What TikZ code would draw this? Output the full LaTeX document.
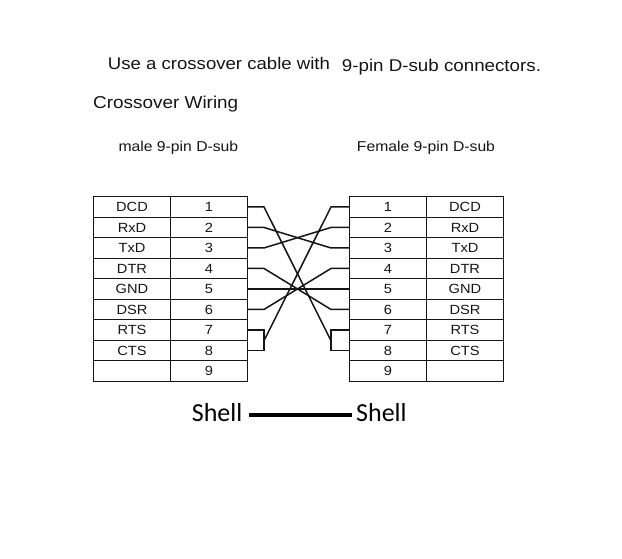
\documentclass[tikz,border=0pt]{standalone}
\usepackage{graphicx}
\usepackage{fontspec}
\setmainfont{Liberation Sans}
\newfontfamily\shellfont{Carlito}
\usepackage{tikz}
\usetikzlibrary{positioning}

\definecolor{ink}{HTML}{151515}
\newcommand{\stretched}[1]{\scalebox{1.1}[1]{#1}}

\tikzset{
  caption/.style={anchor=base west, inner sep=0pt, text=ink},
  cell/.style={draw=ink, line width=1pt, minimum width=77pt, minimum height=20.5pt,
    inner sep=0pt, text height=9.5pt, text depth=0pt, text=ink,
    font=\fontsize{13.3}{15}\selectfont},
  wire/.style={draw=ink, line width=1.5pt},
  shelltext/.style={anchor=base west, inner sep=0pt, text height=13.4pt, text depth=0pt,
    font=\shellfont\fontsize{26}{30}\selectfont},
}

\begin{document}
\begin{tikzpicture}[x=1pt, y=-1pt]
    \useasboundingbox (0,0) rectangle (622,558);

    % headings
    \node [caption, font=\fontsize{16.9}{20}\selectfont] (title) at (107.7,69) {\stretched{Use a crossover cable with}};
    \node [caption, font=\fontsize{17.05}{20}\selectfont] (titleend) at (341.7,71) {\stretched{9-pin D-sub connectors.}};
    \node [caption, font=\fontsize{17.2}{20}\selectfont] (wiring) at (93,108) {\stretched{Crossover Wiring}};
    \node [caption, font=\fontsize{14.3}{17}\selectfont] (male) at (118.3,151.7) {\stretched{male 9-pin D-sub}};
    \node [caption, font=\fontsize{14.3}{17}\selectfont] (female) at (356.7,151.7) {\stretched{Female 9-pin D-sub}};

    % the two pin tables
    \foreach \pin/\sig in {1/DCD,2/RxD,3/TxD,4/DTR,5/GND,6/DSR,7/RTS,8/CTS,9/{}} {
      \node [cell] (Ls\pin) at (132,186.45+20.5*\pin) {\stretched{\sig}};
      \node [cell] (Lp\pin) at (209,186.45+20.5*\pin) {\stretched{\pin}};
      \node [cell] (Rp\pin) at (388,186.45+20.5*\pin) {\stretched{\pin}};
      \node [cell] (Rs\pin) at (465,186.45+20.5*\pin) {\stretched{\sig}};
    }

    % loop points between pins 7 and 8
    \coordinate [right=16pt of Lp7.south east] (Lloop);
    \coordinate [left=18pt of Rp7.south west] (Rloop);

    \draw [wire] (Lp7.east) -| (Lloop) |- (Lp8.east);
    \draw [wire] (Rp7.west) -| (Rloop) |- (Rp8.west);
    \draw [wire] (Lp1.east) -- ++(16,0) -- (Rloop);
    \draw [wire] (Rp1.west) -- ++(-18,0) -- (Lloop);
    \foreach \a/\b in {2/3,3/2,4/6,6/4}
      \draw [wire] (Lp\a.east) -- ++(16,0) -- ([xshift=-18pt]Rp\b.west) -- (Rp\b.west);
    \draw [wire] (Lp5.east) -- (Rp5.west);

    % shell to shell
    \node [shelltext] (shellL) at (191.7,421.7) {Shell};
    \node [shelltext] (shellR) at (356,421.7) {Shell};
    \draw [line width=3.3pt, shorten <=6.2pt, shorten >=4.3pt] (shellL.east) -- (shellR.west);
\end{tikzpicture}
\end{document}
